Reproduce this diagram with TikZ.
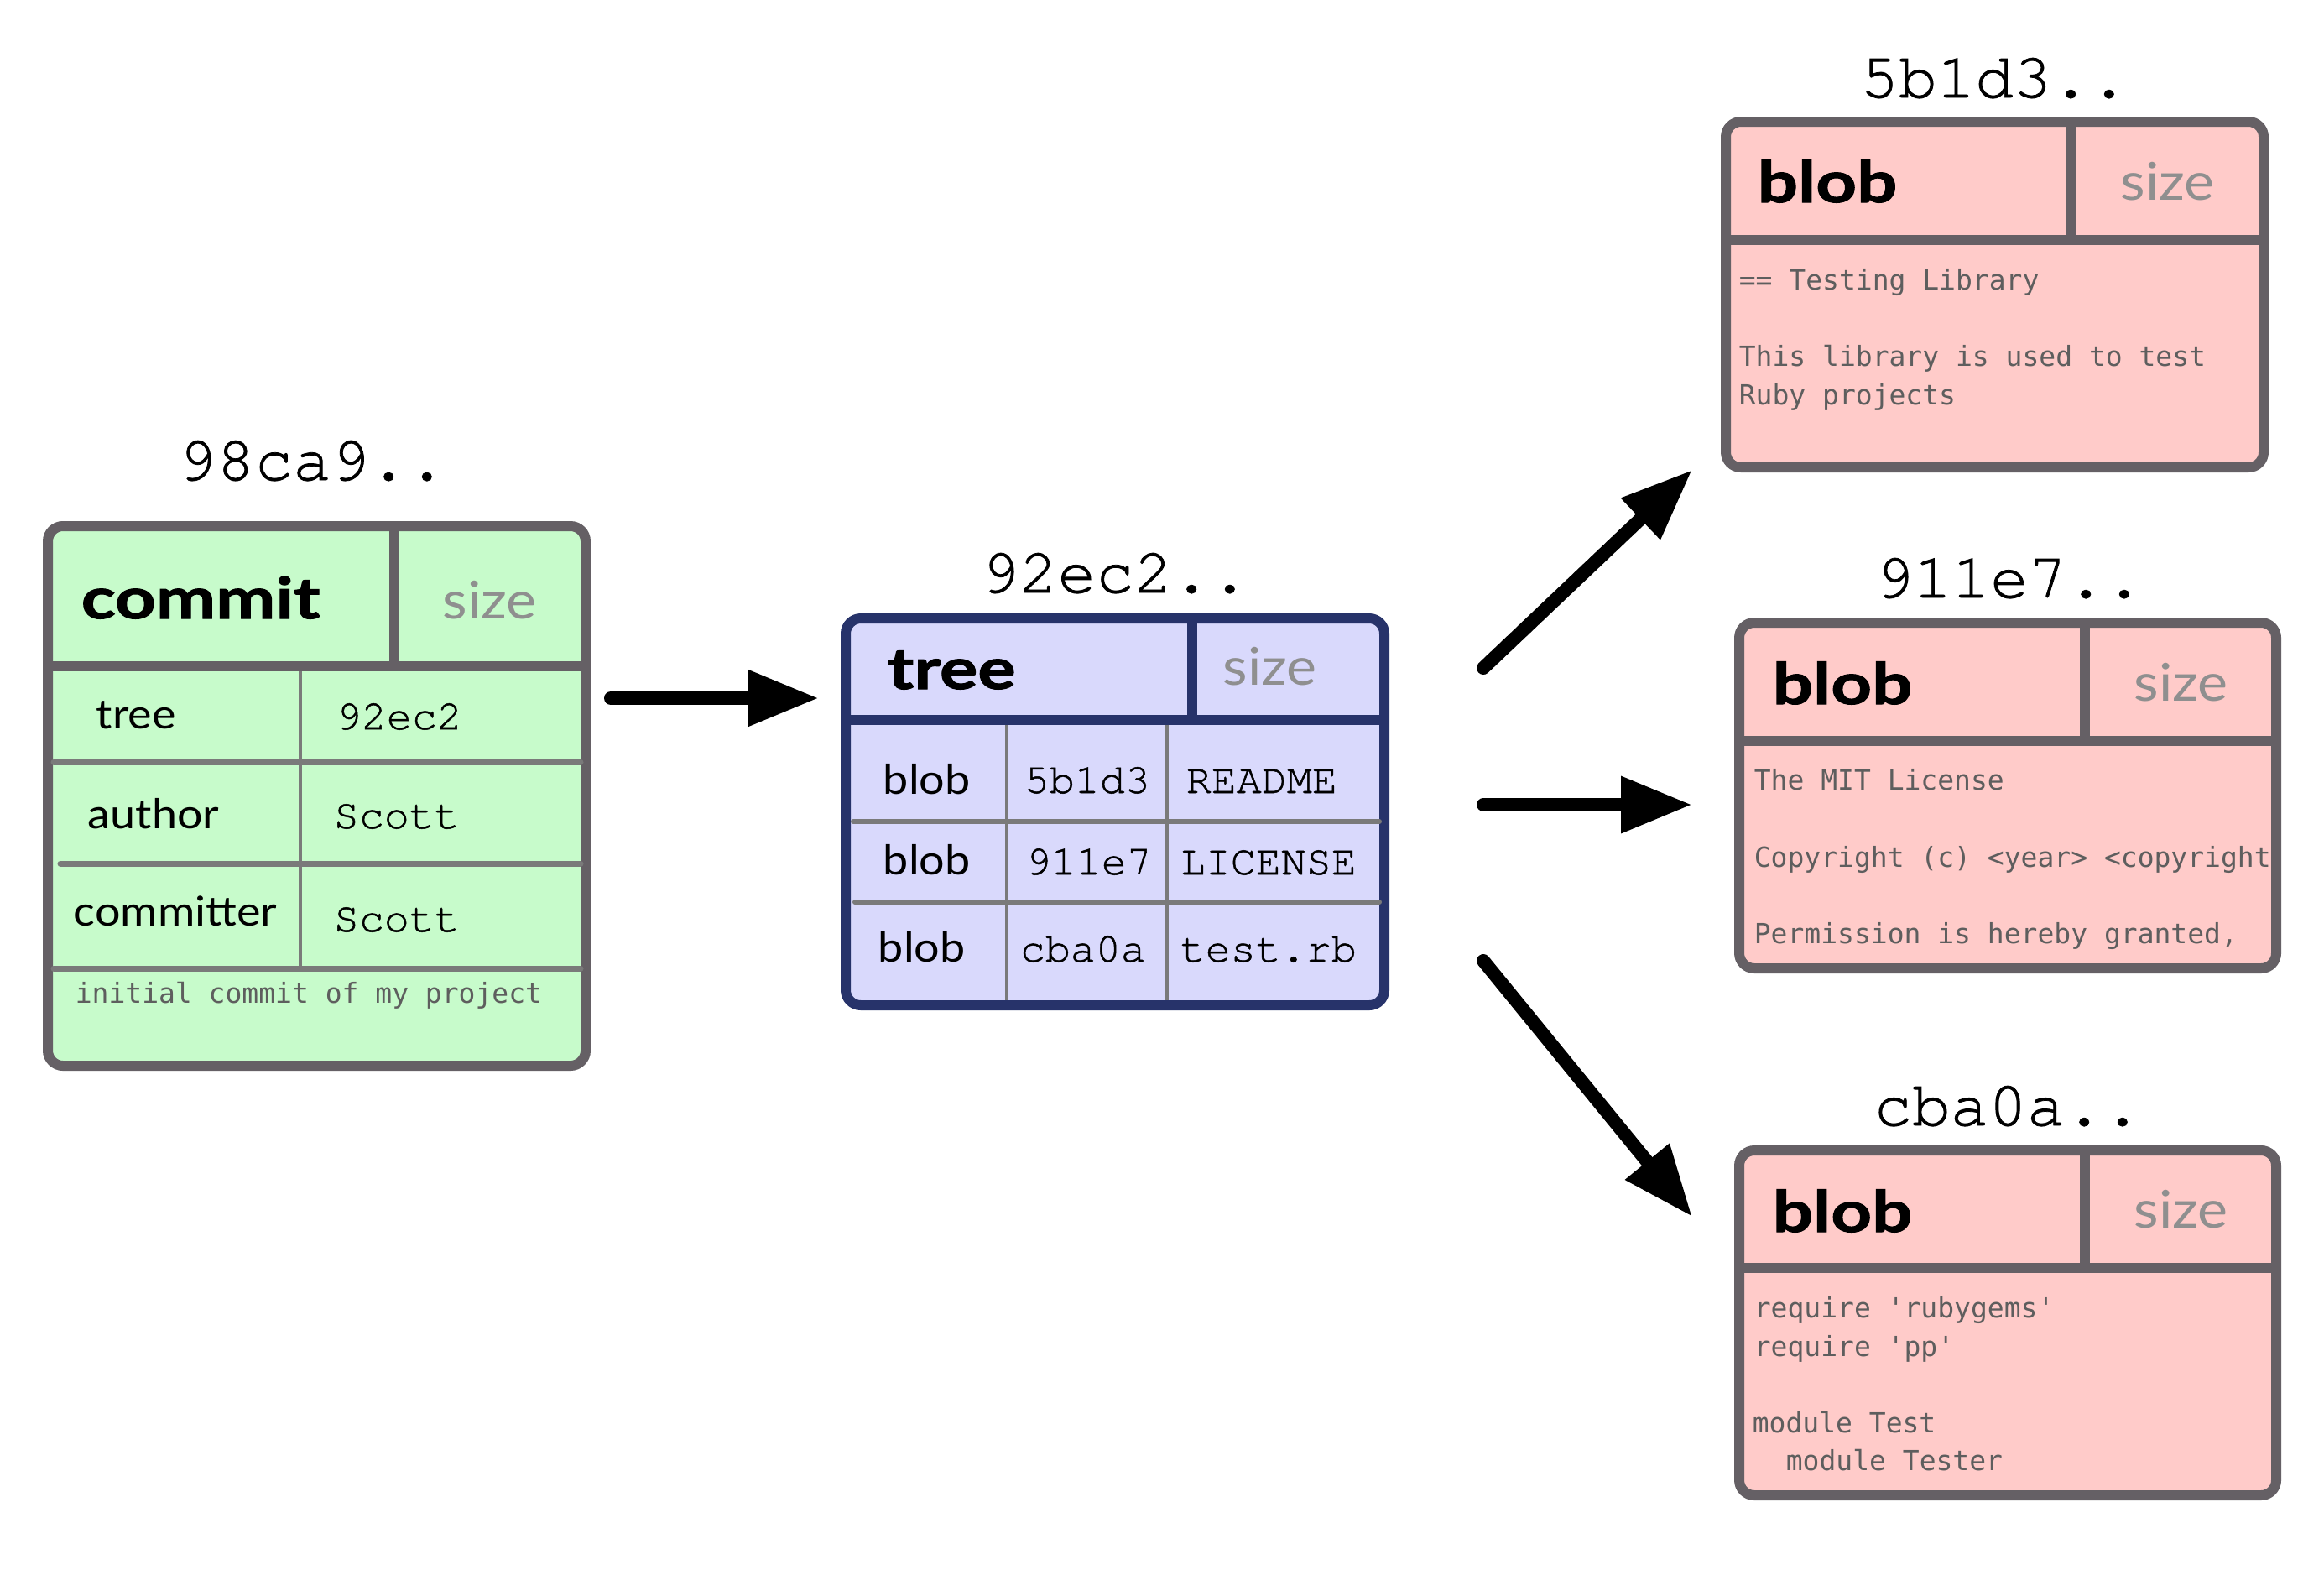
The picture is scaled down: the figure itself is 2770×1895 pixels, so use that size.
\documentclass[tikz,border=0pt]{standalone}
\usepackage{fontspec}
\usetikzlibrary{arrows.meta}
\newfontfamily\gillfont{Lato}[FakeStretch=1.1]
\newfontfamily\gillbold{Lato}[FakeStretch=1.25,FakeBold=1.5]
\newfontfamily\courfont{TeX Gyre Cursor}[FakeBold=1]
\newfontfamily\codefont{DejaVu Sans Mono}[Ligatures=TeXOff]
\definecolor{cfill}{HTML}{C7FBCB}
\definecolor{bordergray}{HTML}{656065}
\definecolor{linegray}{HTML}{7A7A7A}
\definecolor{tfill}{HTML}{D9D9FC}
\definecolor{tborder}{HTML}{27336A}
\definecolor{bfill}{HTML}{FFCBC9}
\definecolor{codegray}{HTML}{5E5E5E}
\definecolor{sizegray}{HTML}{8F8F8F}
\begin{document}
\begin{tikzpicture}[x=0.25pt,y=-0.25pt,
  objbox/.style={draw, line width=3pt, rounded corners=4.5pt, inner sep=0pt},
  hdrline/.style={line width=3pt},
  rowline/.style={draw=linegray, line width=1.75pt, line cap=round},
  colline/.style={draw=linegray, line width=0.9pt},
  hash/.style={font=\courfont\fontsize{19pt}{19pt}\selectfont, anchor=base, inner sep=0pt},
  hdr/.style={font=\gillbold\bfseries\fontsize{17pt}{17pt}\selectfont, anchor=base west, inner sep=0pt},
  sz/.style={font=\gillfont\fontsize{15.5pt}{15.5pt}\selectfont, text=sizegray, anchor=base west, inner sep=0pt},
  lbl/.style={font=\gillfont\fontsize{12.25pt}{12.25pt}\selectfont, anchor=base west, inner sep=0pt},
  mono/.style={font=\courfont\fontsize{12.5pt}{12.5pt}\selectfont, anchor=base west, inner sep=0pt},
  code/.style={font=\codefont\fontsize{8.25pt}{8.25pt}\selectfont, text=codegray, anchor=base west, inner sep=0pt},
  arr/.style={line width=4pt, line cap=round, -{Triangle[length=21.25pt,width=16pt]}}
]
\fill[white] (0,0) rectangle (2770,1895);
\useasboundingbox (0,0) rectangle (2770,1895);

% ---------- commit ----------
\node[hash] (hcommit) at (372,572) {98ca9..};
\node[objbox, fill=cfill, draw=bordergray, minimum width=160.25pt, minimum height=160.75pt] (commit) at (377.5,948.5) {};
\draw[rowline] (64,908) -- (692,908);
\draw[rowline] (72,1029) -- (692,1029);
\draw[rowline] (64,1154) -- (692,1154);
\draw[colline] (358,794) -- (358,1154);
\draw[hdrline, bordergray] (470,627) -- (470,794);
\draw[hdrline, bordergray] (57,794) -- (698,794);
\node[hdr] (commitT) at (96,737) {commit};
\node[sz] (commitS) at (527,737) {size};
\node[lbl] (cTree) at (114,868) {tree};
\node[mono] (cTreeV) at (400,869) {92ec2};
\node[lbl] (cAuth) at (104,987) {author};
\node[mono] (cAuthV) at (397,987) {Scott};
\node[lbl] (cComm) at (87,1103) {committer};
\node[mono] (cCommV) at (397,1110) {Scott};
\node[code] (cMsg) at (89,1195) {initial commit of my project};

% ---------- tree ----------
\node[hash] (htree) at (1329,706) {92ec2..};
\node[objbox, fill=tfill, draw=tborder, minimum width=160.5pt, minimum height=115.25pt] (tree) at (1329,967.5) {};
\draw[rowline, line width=1.5pt] (1017,979) -- (1644,979);
\draw[rowline, line width=1.5pt] (1019,1075) -- (1644,1075);
\draw[colline] (1200,858) -- (1200,1192);
\draw[colline] (1391,858) -- (1391,1192);
\draw[hdrline, tborder] (1421,737) -- (1421,858);
\draw[hdrline, tborder] (1008,858) -- (1650,858);
\node[hdr] (treeT) at (1057,821) {tree};
\node[sz] (treeS) at (1457,816) {size};
\node[lbl] (t1a) at (1052,946) {blob};
\node[mono] (t1b) at (1220,945) {5b1d3};
\node[mono] (t1c) at (1413,945) {README};
\node[lbl] (t2a) at (1052,1042) {blob};
\node[mono] (t2b) at (1222,1042) {911e7};
\node[mono] (t2c) at (1406,1042) {LICENSE};
\node[lbl] (t3a) at (1046,1146) {blob};
\node[mono] (t3b) at (1215,1146) {cba0a};
\node[mono] (t3c) at (1406,1146) {test.rb};

% ---------- blob 1 ----------
\node[hash] (hb1) at (2377,116) {5b1d3..};
\node[objbox, fill=bfill, draw=bordergray, minimum width=160.25pt, minimum height=103pt] (blobA) at (2377.5,351) {};
\draw[hdrline, bordergray] (2469,145) -- (2469,286);
\draw[hdrline, bordergray] (2057,286) -- (2698,286);
\node[hdr] (bAT) at (2094,241) {blob};
\node[sz] (bAS) at (2527,238) {size};
\node[code] (bA1) at (2072,345) {== Testing Library};
\node[code] (bA2) at (2072,436) {This library is used to test};
\node[code] (bA3) at (2072,482) {Ruby projects};

% ---------- blob 2 ----------
\node[hash] (hb2) at (2395,712) {911e7..};
\node[objbox, fill=bfill, draw=bordergray, minimum width=160pt, minimum height=103pt] (blobB) at (2393,948) {};
\draw[hdrline, bordergray] (2485,742) -- (2485,883);
\draw[hdrline, bordergray] (2073,883) -- (2713,883);
\node[hdr] (bBT) at (2112,839) {blob};
\node[sz] (bBS) at (2543,835) {size};
\node[code] (bB1) at (2090,941) {The MIT License};
\node[code] (bB2) at (2090,1033) {Copyright (c) <year> <copyright};
\node[code] (bB3) at (2090,1124) {Permission is hereby granted,};

% ---------- blob 3 ----------
\node[hash] (hb3) at (2393,1341) {cba0a..};
\node[objbox, fill=bfill, draw=bordergray, minimum width=160pt, minimum height=102.75pt] (blobC) at (2393,1576.5) {};
\draw[hdrline, bordergray] (2485,1371) -- (2485,1511);
\draw[hdrline, bordergray] (2073,1511) -- (2713,1511);
\node[hdr] (bCT) at (2112,1468) {blob};
\node[sz] (bCS) at (2543,1463) {size};
\node[code] (bC1) at (2090,1570) {require 'rubygems'};
\node[code] (bC2) at (2090,1616) {require 'pp'};
\node[code] (bC3) at (2088,1707) {module Test};
\node[code] (bC4) at (2128,1752) {module Tester};

% ---------- arrows ----------
\coordinate (a1s) at (728,832);  \coordinate (a1e) at (976,832);
\coordinate (a2s) at (1768,796); \coordinate (a2e) at (2017,560);
\coordinate (a3s) at (1768,959); \coordinate (a3e) at (2017,959);
\coordinate (a4s) at (1768,1145); \coordinate (a4e) at (2017,1450);
\draw[arr] (a1s) -- (a1e);
\draw[arr] (a2s) -- (a2e);
\draw[arr] (a3s) -- (a3e);
\draw[arr] (a4s) -- (a4e);
\end{tikzpicture}
\end{document}
